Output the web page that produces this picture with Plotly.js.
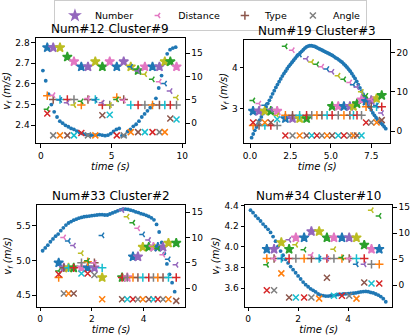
<!DOCTYPE html>
<html>
<head>
<meta charset="utf-8">
<script src="https://cdn.plot.ly/plotly-3.0.1.min.js"></script>
<style>
body { margin: 0; background: white; }
#myDiv { width: 415px; height: 336px; }
</style>
</head>
<body>
<div id="myDiv"></div>
<script>
var tab10 = ['#1f77b4', '#ff7f0e', '#2ca02c', '#d62728', '#9467bd',
        '#8c564b', '#e377c2', '#7f7f7f', '#bcbd22', '#17becf']

// velocity v_f (left axis), sampled from t0 every dt seconds
var speedA = [2.664, 2.615, 2.55, 2.50, 2.465, 2.44, 2.42, 2.41, 2.40, 2.393,
        2.385, 2.38, 2.372, 2.365, 2.36, 2.356, 2.353, 2.352, 2.352, 2.353,
        2.355, 2.352, 2.35, 2.352, 2.36, 2.37, 2.38, 2.385, 2.35, 2.35,
        2.37, 2.38, 2.395, 2.405, 2.42, 2.44, 2.455, 2.47, 2.485, 2.50,
        2.53, 2.58, 2.64, 2.70, 2.745, 2.765, 2.773, 2.777]
var speedB = [2.28, 2.37, 2.46, 2.54, 2.62, 2.71, 2.79, 2.87, 2.96, 3.04,
        3.12, 3.20, 3.28, 3.36, 3.44, 3.52, 3.59, 3.66, 3.73, 3.80,
        3.86, 3.92, 3.98, 4.04, 4.09, 4.14, 4.19, 4.24, 4.29, 4.33,
        4.37, 4.41, 4.45, 4.49, 4.52, 4.54, 4.55, 4.55, 4.54, 4.53,
        4.51, 4.49, 4.47, 4.45, 4.43, 4.41, 4.39, 4.37, 4.35, 4.33,
        4.31, 4.28, 4.25, 4.23, 4.20, 4.17, 4.14, 4.10, 4.06, 4.02,
        3.97, 3.92, 3.86, 3.80, 3.74, 3.67, 3.59, 3.51, 3.43, 3.35,
        3.27, 3.19, 3.11, 3.03, 2.96, 2.89, 2.83, 2.77, 2.72, 2.68,
        2.64, 2.60, 2.55, 2.50]
var speedC = [5.14, 5.18, 5.22, 5.27, 5.31, 5.35, 5.38, 5.43, 5.47, 5.51,
        5.54, 5.56, 5.58, 5.595, 5.61, 5.62, 5.63, 5.635, 5.64, 5.645,
        5.65, 5.655, 5.66, 5.66, 5.655, 5.655, 5.67, 5.685, 5.70, 5.715,
        5.73, 5.74, 5.74, 5.735, 5.725, 5.715, 5.70, 5.69, 5.675, 5.665,
        5.65, 5.635, 5.615, 5.585, 5.52, 5.41, 5.26, 5.10, 4.95, 4.80,
        4.68, 4.55]
var speedD = [4.355, 4.33, 4.30, 4.275, 4.25, 4.22, 4.195, 4.17, 4.14, 4.10,
        4.055, 4.005, 3.96, 3.92, 3.88, 3.845, 3.81, 3.78, 3.75, 3.72,
        3.69, 3.66, 3.635, 3.615, 3.595, 3.58, 3.565, 3.545, 3.535, 3.53,
        3.525, 3.525, 3.528, 3.53, 3.535, 3.54, 3.542, 3.545, 3.547, 3.548,
        3.55, 3.552, 3.555, 3.56, 3.565, 3.568, 3.57, 3.567, 3.56, 3.555,
        3.545, 3.535, 3.52, 3.50, 3.47]

// feature scores (right axis) at each step
var stepsA = [0.45, 0.87, 1.35, 1.87, 2.34, 2.86, 3.33, 3.85, 4.35, 4.87,
        5.37, 5.86, 6.36, 6.88, 7.36, 7.9, 8.39, 8.77, 9.16, 9.6]
var numberA = [16.2, 16.2, 16.2, 14.2, 13.2, 12.1, 12.1, 13.2, 12.1, 13.2,
        12.1, 13.2, 12.1, 11.3, 12.1, 12.1, 12.1, 13.2, 13.2, 12.1]
var distanceA = [3.0, 6.0, 5.0, 4.4, 3.9, 4.7, 5.3, 5.0, 4.4, 3.9,
        5.1, 4.9, 12.1, 11.2, 10.5, 9.4, 8.9, 8.5, 6.9, 5.5]
var typeA = [5.9, 5.1, 5.1, 5.1, 5.1, 3.9, 5.1, 5.1, 3.9, 3.9,
        5.5, 5.1, 3.9, 3.9, 3.9, 3.9, 3.9, 3.9, 3.9, 3.9]
var angleA = [2.1, -2.6, -2.6, -2.6, -2.6, -2.1, -2.6, -2.6, 1.7, 1.8,
        -2.6, -2.6, -1.9, -1.9, -1.9, -1.9, -1.9, -1.9, 1.0, 0.8]

var stepsB = [0.19, 0.56, 0.92, 1.29, 1.68, 2.19, 2.63, 3.07, 3.5, 3.82,
        4.14, 4.45, 4.77, 5.08, 5.46, 5.81, 6.18, 6.4, 6.62, 6.9,
        7.18, 7.5, 7.83, 8.15]
var numberB = [5.1, 5.1, 5.1, 5.1, 5.1, 3.2, 3.2, 3.2, 3.2, null,
        null, null, null, 6.3, 6.3, 6.3, 6.3, 6.3, 7.0, 8.0,
        7.6, 7.8, 8.3, 9.1]
var distanceB = [7.8, 7.0, 6.6, 5.5, 4.0, 21.6, 20.6, 19.5, 18.4, 17.6,
        17.0, 16.4, 15.8, 15.1, 14.1, 13.2, 12.4, 11.8, 11.2, 10.0,
        9.0, 8.1, 6.5, 4.6]
var typeB = [1.4, 1.4, 1.4, 1.4, 1.4, 4.05, 4.05, 4.05, 4.05, 4.05,
        4.05, 4.05, 4.05, 4.05, 4.05, 4.05, 4.05, 4.05, 4.05, 4.05,
        6.2, 6.2, 6.2, 6.2]
var angleB = [2.2, 2.2, 2.2, 2.2, 3.0, -1.1, -1.1, -1.1, -1.1, -1.1,
        -1.1, -1.1, -1.1, -1.1, -1.1, -1.1, -1.1, -1.1, -1.1, -1.1,
        2.2, 2.2, 2.2, 2.8]

var stepsC = [0.72, 0.92, 1.1, 1.3, 1.6, 1.84, 2.1, 2.4, 2.55, 2.7,
        2.85, 3.0, 3.1, 3.17, 3.37, 3.59, 3.78, 3.97, 4.2, 4.38,
        4.55, 4.75, 4.96, 5.26]
var numberC = [5.0, 4.0, 4.0, 4.0, 4.0, 4.0, 4.0, 2.1, null, null,
        null, null, null, 2.1, 2.1, 6.2, 6.2, 8.1, 8.1, 8.1,
        8.1, 8.1, 8.9, 8.9]
var distanceC = [3.4, 10.0, 9.3, 8.4, 6.9, 5.4, 5.0, 10.4, null, null,
        null, null, null, 15.4, 14.1, 12.9, 11.8, 10.6, 9.5, 8.2,
        7.8, 6.6, 5.7, 4.6]
var typeC = [2.1, 4.0, 4.0, 4.0, 5.0, 5.2, 5.0, 4.0, null, null,
        null, null, null, 2.1, 2.1, 2.1, 2.1, 2.1, 2.1, 2.1,
        2.1, 2.1, 2.1, 2.1]
var angleC = [2.75, -1.05, -1.05, -1.05, 2.9, 2.9, 2.6, -2.2, null, null,
        null, null, null, -2.2, -2.2, -2.2, -2.2, -2.2, -2.2, -2.2,
        -2.2, -2.2, -2.2, -2.5]

var stepsD = [0.75, 1.04, 1.33, 1.64, 1.91, 2.24, 2.53, 2.84, 3.15, 3.43,
        3.75, 4.04, 4.33, 4.64, 4.93, 5.24]
var numberD = [6.9, 6.9, 8.2, 6.9, 9.1, 9.1, 10.3, 10.3, 9.1, 9.1,
        9.1, 9.1, 9.1, 7.7, 6.9, 6.9]
var distanceD = [3.9, 5.1, 5.1, 8.7, 7.75, 6.8, 5.8, 5.1, 5.1, 6.9,
        5.3, 5.1, 4.0, 4.0, 14.4, 13.3]
var typeD = [5.1, 5.1, 5.1, 5.1, 5.1, 5.1, 5.1, 5.1, 5.1, 5.1,
        5.1, 5.1, 5.1, 5.1, 4.0, 4.0]
var angleD = [-1.0, -1.0, 2.25, -2.4, -2.4, -2.4, -2.4, -2.6, 1.4, -2.05,
        -2.05, -2.05, -2.6, 0.5, 0.3, 0.3]

var panels = [
    {title: 'Num#12 Cluster#9', t0: 0.14, dt: 0.2, speed: speedA,
     steps: stepsA, number: numberA, distance: distanceA, type: typeA, angle: angleA,
     xdom: [0.0867, 0.4458], ydom: [0.5735, 0.886],
     xrange: [-0.35, 10.2], xticks: [0, 5, 10], xfmt: 'd',
     yrange: [2.313, 2.82], yticks: [2.4, 2.5, 2.6, 2.7, 2.8], yfmt: '.1f',
     rrange: [-4.3, 18.2], rticks: [0, 5, 10, 15]},
    {title: 'Num#19 Cluster#3', t0: 0.1, dt: 0.1, speed: speedB,
     steps: stepsB, number: numberB, distance: distanceB, type: typeB, angle: angleB,
     xdom: [0.588, 0.9405], ydom: [0.5735, 0.881],
     xrange: [-0.37, 8.68], xticks: [0, 2.5, 5, 7.5], xfmt: '.1f',
     yrange: [2.14, 4.69], yticks: [3, 4], yfmt: 'd',
     rrange: [-3.1, 23.2], rticks: [0, 10, 20]},
    {title: 'Num#33 Cluster#2', t0: 0.1, dt: 0.1, speed: speedC,
     steps: stepsC, number: numberC, distance: distanceC, type: typeC, angle: angleC,
     xdom: [0.089, 0.4465], ydom: [0.0865, 0.39],
     xrange: [-0.12, 5.61], xticks: [0, 2, 4], xfmt: 'd',
     yrange: [4.33, 5.80], yticks: [4.5, 5.0, 5.5], yfmt: '.1f',
     rrange: [-3.7, 16.4], rticks: [0, 5, 10, 15]},
    {title: 'Num#34 Cluster#10', t0: 0.1, dt: 0.1, speed: speedD,
     steps: stepsD, number: numberD, distance: distanceD, type: typeD, angle: angleD,
     xdom: [0.5904, 0.9453], ydom: [0.0865, 0.39],
     xrange: [-0.12, 5.76], xticks: [0, 2, 4], xfmt: 'd',
     yrange: [3.42, 4.405], yticks: [3.6, 3.8, 4.0, 4.2, 4.4], yfmt: '.1f',
     rrange: [-4.2, 15.4], rticks: [0, 5, 10, 15]}
]

// plotting order inside each step of the original loop: star, plus, tri, x
var series = [
    {key: 'number', name: 'Number', symbol: 'star', size: 7, offset: 0},
    {key: 'type', name: 'Type', symbol: 'cross-thin', size: 6, offset: 1},
    {key: 'distance', name: 'Distance', symbol: 'y-left', size: 4.5, offset: 2},
    {key: 'angle', name: 'Angle', symbol: 'x-thin', size: 6, offset: 3}
]
var legendOrder = ['Number', 'Distance', 'Type', 'Angle']

function sampleTimes(t0, dt, n) {
    var t = []
    for (var i = 0; i < n; i++) t.push(Math.round((t0 + i * dt) * 100) / 100)
    return t
}

function stepColors(n, offset) {
    var c = []
    for (var k = 0; k < n; k++) c.push(tab10[(4 * k + offset) % 10])
    return c
}

var frame = {
    showline: true, linecolor: 'black', linewidth: 1,
    ticks: 'outside', ticklen: 3.5, tickwidth: 1, tickcolor: 'black',
    showgrid: false, zeroline: false,
    tickfont: {size: 9, color: 'black'}
}

var data = []
var layout = {
    width: 415, height: 336,
    margin: {l: 0, r: 0, t: 0, b: 0},
    paper_bgcolor: 'white', plot_bgcolor: 'white',
    font: {family: 'DejaVu Sans', color: 'black'},
    showlegend: true,
    legend: {
        orientation: 'h', x: 0.13, xanchor: 'left', y: 1.0, yanchor: 'top',
        bgcolor: 'white', bordercolor: '#cccccc', borderwidth: 1,
        font: {size: 9.5}, itemclick: false, itemdoubleclick: false,
        itemwidth: 30, tracegroupgap: 0
    },
    annotations: []
}

// legend-only entries
legendOrder.forEach(function (nm) {
    var s = series.filter(function (q) { return q.name == nm })[0]
    var col = tab10[(4 + s.offset) % 10]
    data.push({
        type: 'scatter', mode: 'markers', name: nm,
        x: [null], y: [null], xaxis: 'x', yaxis: 'y2',
        marker: {symbol: s.symbol, size: s.size, color: col,
                 line: {color: col, width: 1.5}}
    })
})

panels.forEach(function (p, i) {
    var xs = i == 0 ? '' : String(i + 1)
    var yl = i == 0 ? '' : String(2 * i + 1)
    var yr = String(2 * i + 2)

    layout['xaxis' + xs] = Object.assign({}, frame, {
        domain: p.xdom, range: p.xrange, tickvals: p.xticks, tickformat: p.xfmt,
        anchor: 'y' + yl, mirror: true,
        title: {text: '<i>time (s)</i>', font: {size: 10}, standoff: 2}
    })
    layout['yaxis' + yl] = Object.assign({}, frame, {
        domain: p.ydom, range: p.yrange, tickvals: p.yticks, tickformat: p.yfmt,
        anchor: 'x' + xs, mirror: true,
        title: {text: '<i>v<sub>f</sub> (m/s)</i>', font: {size: 10}, standoff: 2}
    })
    layout['yaxis' + yr] = Object.assign({}, frame, {
        overlaying: 'y' + yl, side: 'right', anchor: 'x' + xs,
        range: p.rrange, tickvals: p.rticks, showline: false
    })

    layout.annotations.push({
        text: p.title, showarrow: false,
        xref: 'paper', yref: 'paper',
        x: (p.xdom[0] + p.xdom[1]) / 2, y: p.ydom[1],
        xanchor: 'center', yanchor: 'bottom', yshift: 0,
        font: {size: 12, color: 'black'}
    })

    data.push({
        type: 'scatter', mode: 'markers', showlegend: false,
        x: sampleTimes(p.t0, p.dt, p.speed.length), y: p.speed,
        xaxis: 'x' + xs, yaxis: 'y' + yl,
        marker: {color: tab10[0], size: 3.8}
    })

    series.forEach(function (s) {
        var cols = stepColors(p.steps.length, s.offset)
        data.push({
            type: 'scatter', mode: 'markers', showlegend: false,
            x: p.steps, y: p[s.key],
            xaxis: 'x' + xs, yaxis: 'y' + yr,
            marker: {symbol: s.symbol, size: s.size, color: cols,
                     line: {color: cols, width: 1.5}}
        })
    })
})

Plotly.newPlot('myDiv', data, layout, {displayModeBar: false, staticPlot: true})
</script>
</body>
</html>
